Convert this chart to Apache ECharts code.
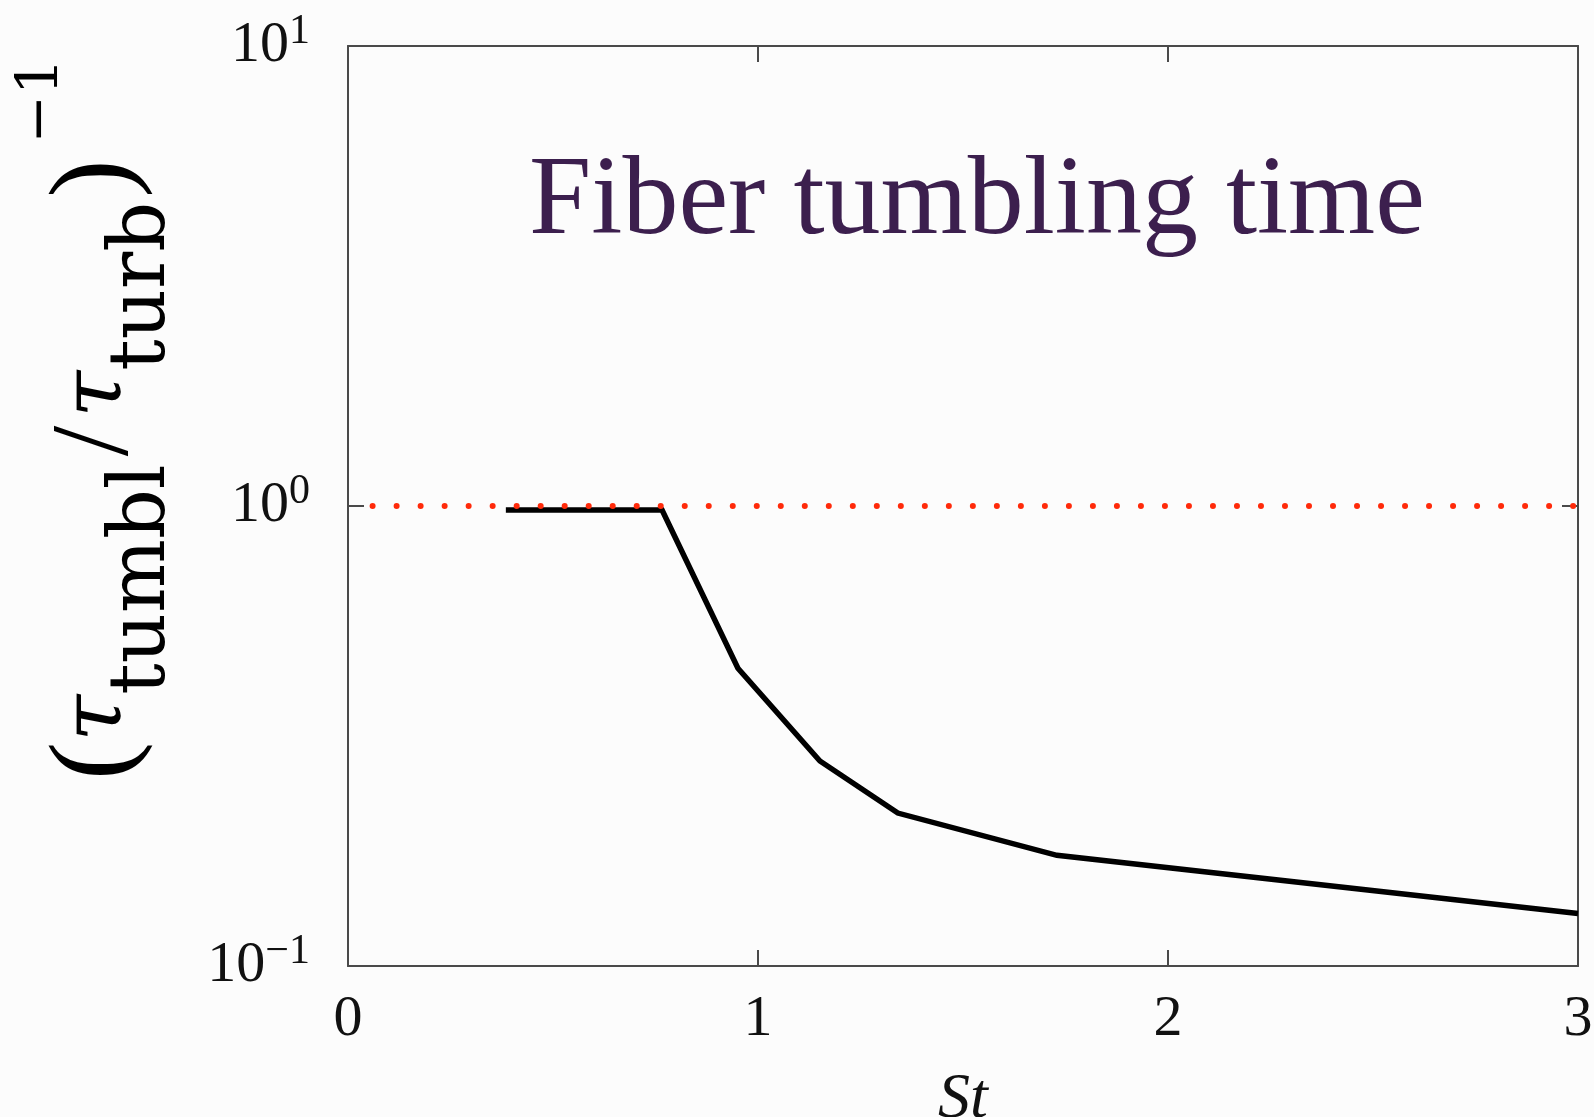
<!DOCTYPE html>
<html>
<head>
<meta charset="utf-8">
<script src="https://cdn.jsdelivr.net/npm/echarts@6/dist/echarts.min.js"></script>
<style>
  html, body { margin: 0; padding: 0; background: #fcfcfc; }
  #chart { width: 1594px; height: 1117px; }
</style>
</head>
<body>
<div id="chart"></div>
<script>
// ---- data ----
const stValues      = [0.385, 0.766, 0.951, 1.151, 1.341, 1.729, 3.0];
const tumblingRate  = [0.98, 0.98, 0.444, 0.279, 0.215, 0.174, 0.130];
const refLineX      = [0.06, 3.0];
const refLineY      = [1, 1];
const xTickLabels   = ['0', '1', '2', '3'];
const yTickValues   = [0.1, 1, 10];
const yTickExponent = ['\u22121', '0', '1'];
const titleText     = 'Fiber tumbling time';

const serif = '"Liberation Serif", "DejaVu Serif", serif';
const wideSerif = '"DejaVu Serif", "Liberation Serif", serif';

const chart = echarts.init(document.getElementById('chart'), null, { renderer: 'canvas' });

function yLabel(v) {
  for (let i = 0; i < yTickValues.length; i++) {
    if (Math.abs(Math.log10(v) - Math.log10(yTickValues[i])) < 1e-6) {
      return '{b|10}{e|' + yTickExponent[i] + '}';
    }
  }
  return '';
}

const axisLineStyle = { color: '#4a4a4a', width: 2 };

const option = {
  backgroundColor: '#fcfcfc',
  animation: false,
  title: {
    text: titleText,
    left: 524,
    top: 143,
    textStyle: { fontFamily: serif, fontSize: 112, fontWeight: 'normal', color: '#3c1f4e' }
  },
  grid: { left: 348, right: 16, top: 46, bottom: 151, containLabel: false, outerBoundsMode: 'none' },
  xAxis: [
    {
      type: 'value', min: 0, max: 3, interval: 1, position: 'bottom',
      axisLine: { show: true, onZero: false, lineStyle: axisLineStyle },
      axisTick: { show: true, inside: true, length: 16, lineStyle: axisLineStyle },
      splitLine: { show: false },
      axisLabel: {
        margin: 25, fontFamily: serif, fontSize: 58, color: '#111',
        formatter: v => xTickLabels[Math.round(v)]
      },
      name: 'St', nameLocation: 'middle', nameGap: 102,
      nameTextStyle: { fontFamily: serif, fontSize: 64, fontStyle: 'italic', color: '#111' }
    },
    {
      type: 'value', min: 0, max: 3, interval: 1, position: 'top',
      axisLine: { show: true, onZero: false, lineStyle: axisLineStyle },
      axisTick: { show: true, inside: true, length: 16, lineStyle: axisLineStyle },
      splitLine: { show: false },
      axisLabel: { show: false }
    }
  ],
  yAxis: [
    {
      type: 'log', logBase: 10, min: 0.1, max: 10, position: 'left',
      axisLine: { show: true, onZero: false, lineStyle: axisLineStyle },
      axisTick: { show: true, inside: true, length: 16, lineStyle: axisLineStyle },
      minorTick: { show: false },
      splitLine: { show: false },
      axisLabel: {
        margin: 38, color: '#111', formatter: yLabel,
        rich: {
          b: { fontFamily: serif, fontSize: 58, lineHeight: 70, color: '#111' },
          e: { fontFamily: serif, fontSize: 42, lineHeight: 37, verticalAlign: 'top', color: '#111' }
        }
      },
      name: '{p|(}{t|\u03C4}{s|tumbl}{sl|/}{t|\u03C4}{s2|turb}{p|)}{e|\u22121}',
      nameLocation: 'middle', nameGap: 165,
      nameTextStyle: {
        padding: [0, 0, 0, 174],
        rich: {
          p: { fontFamily: serif, fontSize: 115, lineHeight: 170, color: '#000' },
          sl: { fontFamily: serif, fontSize: 110, lineHeight: 170, padding: [0, 8, 0, 8], color: '#000' },
          t: { fontFamily: wideSerif, fontSize: 85, fontStyle: 'italic', lineHeight: 170, color: '#000' },
          s: { fontFamily: wideSerif, fontSize: 78, lineHeight: 100, verticalAlign: 'bottom', color: '#000' },
          s2: { fontFamily: wideSerif, fontSize: 78, lineHeight: 100, verticalAlign: 'bottom', padding: [0, 4, 0, 0], color: '#000' },
          e: { fontFamily: wideSerif, fontSize: 58, lineHeight: 64, verticalAlign: 'top', padding: [0, 0, 0, 16], color: '#000' }
        }
      }
    },
    {
      type: 'log', logBase: 10, min: 0.1, max: 10, position: 'right',
      axisLine: { show: true, onZero: false, lineStyle: axisLineStyle },
      axisTick: { show: true, inside: true, length: 16, lineStyle: axisLineStyle },
      minorTick: { show: false },
      splitLine: { show: false },
      axisLabel: { show: false }
    }
  ],
  series: [
    {
      type: 'line',
      xAxisIndex: 0, yAxisIndex: 0,
      data: refLineX.map((x, i) => [x, refLineY[i]]),
      symbol: 'none',
      lineStyle: { color: '#ff2a0a', width: 6, type: [0.01, 24], cap: 'round' },
      z: 3
    },
    {
      type: 'line',
      xAxisIndex: 0, yAxisIndex: 0,
      data: stValues.map((x, i) => [x, tumblingRate[i]]),
      symbol: 'none',
      lineStyle: { color: '#000', width: 5.5, join: 'miter' },
      z: 2
    }
  ]
};

chart.setOption(option);
</script>
</body>
</html>
